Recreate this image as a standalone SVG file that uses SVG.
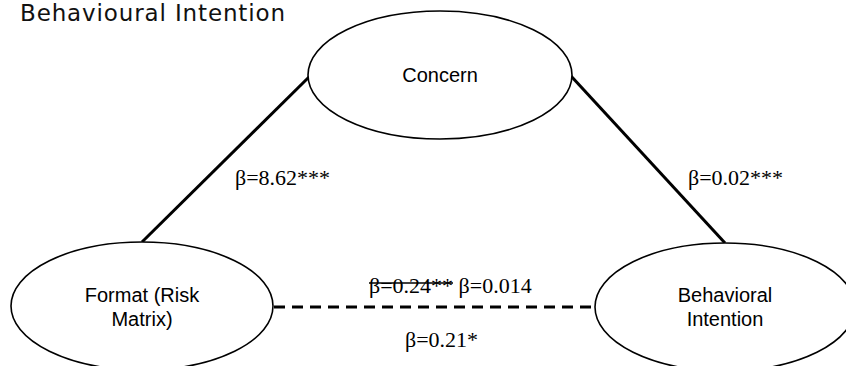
<svg xmlns="http://www.w3.org/2000/svg" width="846" height="366" viewBox="0 0 846 366">
<style>
.node ellipse{fill:#fff;stroke:#000;stroke-width:1.6}
.nt{font-family:"Liberation Sans",Arial,sans-serif;font-size:20px;fill:#000;text-anchor:middle}
.lbl{font-family:"Liberation Serif","Times New Roman",serif;font-size:22px;fill:#000}
.edge{stroke:#000;stroke-width:3;fill:none}
.dash{stroke-dasharray:11 7}
.title{font-family:"DejaVu Sans","Open Sans",sans-serif;font-size:23px;fill:#111}
</style>
<rect width="846" height="366" fill="#fff"/>
<text class="title" x="20" y="21" textLength="265">Behavioural Intention</text>
<g id="connectors">
<line class="edge" x1="142" y1="242" x2="309" y2="77"/>
<line class="edge" x1="571" y1="76" x2="725" y2="243"/>
<line class="edge dash" x1="274" y1="307" x2="596" y2="307"/>
</g>
<g id="concern" class="node">
<ellipse cx="440" cy="75" rx="132" ry="64"/>
<text class="nt" x="440" y="82">Concern</text>
</g>
<g id="format" class="node">
<ellipse cx="142" cy="306" rx="131" ry="64"/>
<text class="nt" x="142" y="302">Format (Risk</text>
<text class="nt" x="142" y="326">Matrix)</text>
</g>
<g id="behavioral" class="node">
<ellipse cx="725" cy="307" rx="130" ry="64"/>
<text class="nt" x="725" y="302">Behavioral</text>
<text class="nt" x="725" y="326">Intention</text>
</g>
<g id="labels">
<text class="lbl" x="235" y="185">β=8.62***</text>
<text class="lbl" x="688" y="185">β=0.02***</text>
<text class="lbl" x="369" y="293">β=0.24** β=0.014</text>
<line x1="369" y1="283" x2="453" y2="283" stroke="#000" stroke-width="1.5"/>
<text class="lbl" x="405" y="347">β=0.21*</text>
</g>
</svg>
